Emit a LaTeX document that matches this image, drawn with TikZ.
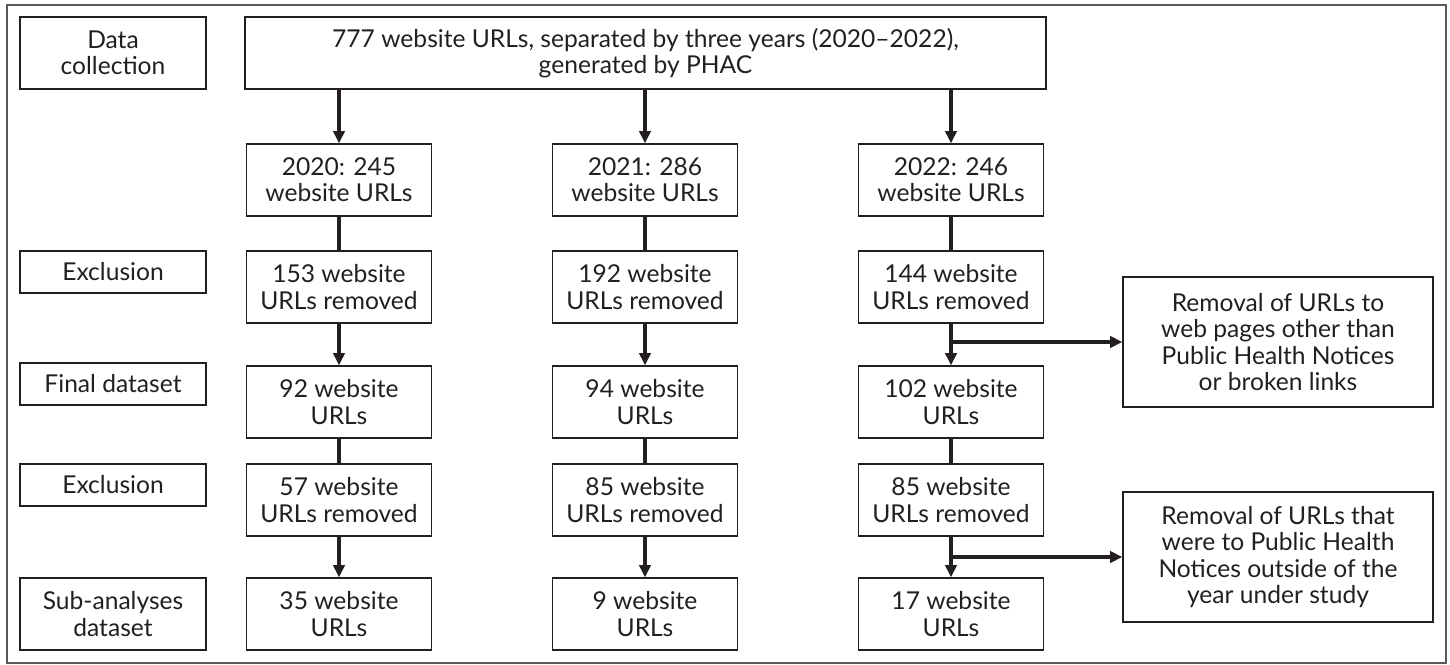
\documentclass[tikz,border=0pt]{standalone}
\usepackage{fontspec}
\setmainfont{Lato}
\usetikzlibrary{arrows.meta}

\definecolor{ink}{HTML}{231F20}

\tikzset{
  box/.style={draw=ink, line width=0.8pt, align=center, inner sep=0pt,
    text=ink, font=\fontsize{14}{15}\selectfont},
  stage/.style={box, minimum width=3.72cm, minimum height=0.84cm},
  count/.style={box, minimum width=3.7cm, minimum height=1.44cm},
  note/.style={box, minimum width=6.2cm, minimum height=2.6cm},
  flow/.style={line width=1.8pt, ink},
  arr/.style={flow, -{Triangle[width=6.5pt,length=7pt]}},
}

\begin{document}
\begin{tikzpicture}[x=0.02cm, y=-0.02cm]
  \useasboundingbox (0,0) rectangle (1450,665);
  \draw[black!65, line width=1.1pt] (7,5) rectangle (1446,663);

  % stage labels on the left
  \node[stage, minimum height=1.44cm] (collect) at (113,53) {Data\\collection};
  \node[stage] (excl1) at (113,272) {Exclusion};
  \node[stage] (final) at (113,384) {Final dataset};
  \node[stage] (excl2) at (113,485) {Exclusion};
  \node[stage, minimum height=1.44cm] (sub) at (113,614) {Sub-analyses\\dataset};

  % all URLs
  \node[box, minimum width=16.02cm, minimum height=1.44cm] (all) at (645.5,53)
    {777 website URLs, separated by three years (2020--2022),\\generated by PHAC};

  % 2020
  \node[count] (y20) at (339,180) {2020: 245\\website URLs};
  \node[count] (ra20) at (339,287) {153 website\\URLs removed};
  \node[count] (f20) at (339,402) {92 website\\URLs};
  \node[count] (rb20) at (339,500) {57 website\\URLs removed};
  \node[count] (s20) at (339,614) {35 website\\URLs};

  % 2021
  \node[count] (y21) at (645,180) {2021: 286\\website URLs};
  \node[count] (ra21) at (645,287) {192 website\\URLs removed};
  \node[count] (f21) at (645,402) {94 website\\URLs};
  \node[count] (rb21) at (645,500) {85 website\\URLs removed};
  \node[count] (s21) at (645,614) {9 website\\URLs};

  % 2022
  \node[count] (y22) at (951,180) {2022: 246\\website URLs};
  \node[count] (ra22) at (951,287) {144 website\\URLs removed};
  \node[count] (f22) at (951,402) {102 website\\URLs};
  \node[count] (rb22) at (951,500) {85 website\\URLs removed};
  \node[count] (s22) at (951,614) {17 website\\URLs};

  % reasons for removal
  \node[note] (why1) at (1278,342)
    {Removal of URLs to\\web pages other than\\Public Health Notices\\or broken links};
  \node[note] (why2) at (1278,557)
    {Removal of URLs that\\were to Public Health\\Notices outside of the\\year under study};

  % connectors
  \draw[arr] (all.south -| y20.north) -- (y20.north);
  \draw[arr] (all.south -| y21.north) -- (y21.north);
  \draw[arr] (all.south -| y22.north) -- (y22.north);

  \draw[flow] (y20) -- (ra20);
  \draw[flow] (y21) -- (ra21);
  \draw[flow] (y22) -- (ra22);
  \draw[arr] (ra20) -- (f20);
  \draw[arr] (ra21) -- (f21);
  \draw[arr] (ra22) -- (f22);
  \draw[flow] (f20) -- (rb20);
  \draw[flow] (f21) -- (rb21);
  \draw[flow] (f22) -- (rb22);
  \draw[arr] (rb20) -- (s20);
  \draw[arr] (rb21) -- (s21);
  \draw[arr] (rb22) -- (s22);

  \draw[arr] (why1.west -| ra22.south) -- (why1.west);
  \draw[arr] (why2.west -| rb22.south) -- (why2.west);
\end{tikzpicture}
\end{document}
